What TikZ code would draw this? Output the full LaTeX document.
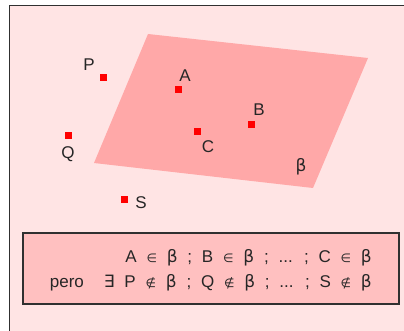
\documentclass[tikz,border=0pt]{standalone}
\usepackage{fontspec}
\setmainfont{Liberation Sans}
\newfontfamily\symfont{DejaVu Sans}
\usetikzlibrary{positioning}
\definecolor{bgpink}{HTML}{FFE4E4}
\definecolor{planepink}{HTML}{FFA8A8}
\definecolor{boxpink}{HTML}{FFC0C0}
\definecolor{framegray}{HTML}{303030}
\newcommand{\widesp}{\spaceskip=9.8pt\relax}
\newcommand{\isin}{{\symfont\fontsize{12}{12}\selectfont ∈}}
\newcommand{\notisin}{{\symfont\fontsize{12}{12}\selectfont ∉}}
\newcommand{\bt}{{\symfont β}}
\tikzset{
  pt/.style={fill=red, minimum size=7pt, inner sep=0pt},
  lbl/.style={font=\fontsize{17}{18}\selectfont, text=black!85, inner sep=0pt},
}
\begin{document}
\begin{tikzpicture}[x=1pt, y=-1pt]
  \useasboundingbox (0,0) rectangle (404,331);
  \fill[bgpink] (9,5) rectangle (404,331);
  \draw[framegray, line width=1.5pt] (9.5,331) -- (9.5,5.5) -- (404,5.5);
  % plane beta
  \fill[planepink] (148,34) -- (368,58) -- (313,188) -- (94,163) -- cycle;
  % points
  \node[pt] (P) at (103,78) {};
  \node[pt] (A) at (178,90) {};
  \node[pt] (B) at (251,125) {};
  \node[pt] (C) at (197,132) {};
  \node[pt] (Q) at (68,136) {};
  \node[pt] (S) at (124,200) {};
  \node[lbl] (lP) at (89,65) {P};
  \node[lbl] (lA) at (185,76) {A};
  \node[lbl] (lB) at (259,110) {B};
  \node[lbl] (lC) at (208,147) {C};
  \node[lbl] (lQ) at (68,154) {Q};
  \node[lbl] (lS) at (141,203) {S};
  \node[lbl] (lbeta) at (301,167) {\bt};
  % summary box
  \node[draw=framegray, line width=1.2pt, fill=boxpink, minimum width=376pt, minimum height=71pt] (box) at (211,268.5) {};
  \node[anchor=east, align=right, inner sep=0pt, font=\fontsize{17}{25}\selectfont, text=black!85] (rel) at (372,270.5)
    {\widesp A \isin\ \bt\ ; B \isin\ \bt\ ; ... ; C \isin\ \bt\\
     \widesp pero\hspace{20pt}{\symfont∃} P \notisin\ \bt\ ; Q \notisin\ \bt\ ; ... ; S \notisin\ \bt};
\end{tikzpicture}
\end{document}
